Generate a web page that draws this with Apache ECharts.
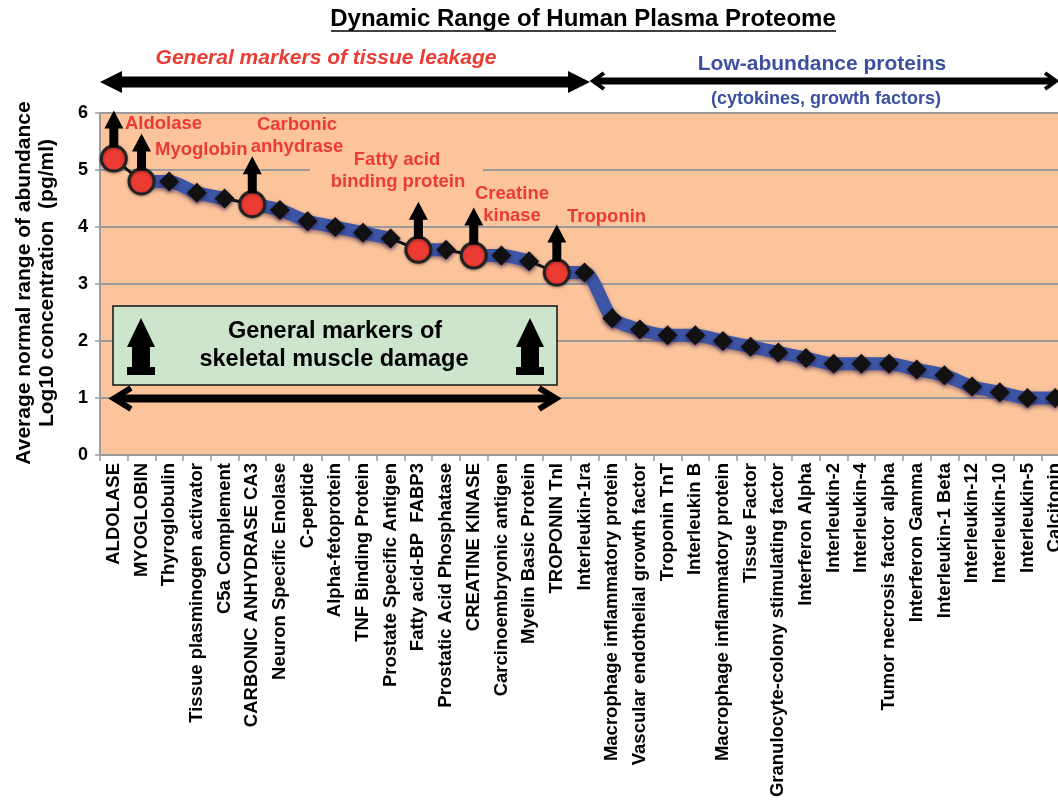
<!DOCTYPE html>
<html>
<head>
<meta charset="utf-8">
<script src="https://cdn.jsdelivr.net/npm/echarts@6/dist/echarts.min.js"></script>
<style>
  html, body { margin: 0; padding: 0; background: #fff; overflow: hidden; }
  #chart { width: 1070px; height: 801px; }
</style>
</head>
<body>
<div id="chart"></div>
<script>
var categories = [
    'ALDOLASE', 'MYOGLOBIN', 'Thyroglobulin', 'Tissue plasminogen activator', 'C5a Complement',
    'CARBONIC ANHYDRASE CA3', 'Neuron Specific Enolase', 'C-peptide', 'Alpha-fetoprotein',
    'TNF Binding Protein', 'Prostate Specific Antigen', 'Fatty acid-BP  FABP3',
    'Prostatic Acid Phosphatase', 'CREATINE KINASE', 'Carcinoembryonic antigen',
    'Myelin Basic Protein', 'TROPONIN TnI', 'Interleukin-1ra', 'Macrophage inflammatory protein',
    'Vascular endothelial growth factor', 'Troponin TnT', 'Interleukin B',
    'Macrophage inflammatory protein', 'Tissue Factor', 'Granulocyte-colony stimulating factor',
    'Interferon Alpha', 'Interleukin-2', 'Interleukin-4', 'Tumor necrosis factor alpha',
    'Interferon Gamma', 'Interleukin-1 Beta', 'Interleukin-12', 'Interleukin-10',
    'Interleukin-5', 'Calcitonin'
];
var values = [
    5.2, 4.8, 4.8, 4.6, 4.5, 4.4, 4.3, 4.1, 4.0, 3.9, 3.8, 3.6, 3.6, 3.5, 3.5, 3.4, 3.2,
    3.2, 2.4, 2.2, 2.1, 2.1, 2.0, 1.9, 1.8, 1.7, 1.6, 1.6, 1.6, 1.5, 1.4, 1.2, 1.1, 1.0, 1.0
];
// muscle damage markers (red circles with arrows)
var highlighted = [0, 1, 5, 11, 13, 16];
var yTicks = [0, 1, 2, 3, 4, 5, 6];

var FONT = '"Liberation Sans", Arial, sans-serif',
    PEACH = '#FBC49B',
    GREY = '#9B9B9B',
    BLUE = '#3C56A5',
    RED = '#EC3B33',
    NAVY = '#3C50A0';

var chart = echarts.init(document.getElementById('chart'));

// split the line: blue runs, thin black segments leading into red markers
var blueRuns = [], blackSegs = [], start = null;
for (var i = 0; i < values.length - 1; i++) {
    if (highlighted.indexOf(i + 1) >= 0) {
        blackSegs.push([i, i + 1]);
        if (start !== null) {
            blueRuns.push([start, i]);
            start = null;
        }
    } else if (start === null) {
        start = i;
    }
}
if (start !== null) blueRuns.push([start, values.length - 1]);

var lineRun = function (from, to) {
    return values.map(function (v, i) {
        return (i >= from && i <= to) ? v : '-';
    });
};

var series = [];
blueRuns.forEach(function (r) {
    series.push({
        type: 'line', data: lineRun(r[0], r[1]), symbol: 'none', smooth: 0.25, z: 2,
        lineStyle: {
            color: BLUE, width: 13, opacity: 1,
            shadowColor: 'rgba(40,20,60,0.45)', shadowBlur: 4, shadowOffsetY: 2
        }
    });
});
blackSegs.forEach(function (r) {
    series.push({
        type: 'line', data: lineRun(r[0], r[1]), symbol: 'none', z: 2,
        lineStyle: {color: '#111', width: 3, opacity: 1}
    });
});
series.push({
    type: 'scatter', symbol: 'diamond', symbolSize: 20, z: 3,
    data: values.map(function (v, i) {
        return highlighted.indexOf(i) >= 0 ? [i, '-'] : [i, v];
    }),
    itemStyle: {
        color: '#111', opacity: 1,
        shadowColor: 'rgba(40,20,80,0.7)', shadowBlur: 4, shadowOffsetY: 2
    }
});
series.push({
    type: 'scatter', symbol: 'circle', symbolSize: 25, z: 4,
    data: highlighted.map(function (i) { return [i, values[i]]; }),
    itemStyle: {
        color: RED, borderColor: '#222', borderWidth: 3, opacity: 1,
        shadowColor: 'rgba(0,0,0,0.35)', shadowBlur: 3, shadowOffsetY: 1
    }
});
series.push({
    type: 'scatter', z: 5,
    symbol: 'path://M9.5,0 L19,18 L14,18 L14,37 L5,37 L5,18 L0,18 Z',
    symbolSize: [19, 37], symbolOffset: [0, -29.5],
    data: highlighted.map(function (i) { return [i, values[i]]; }),
    itemStyle: {color: '#000', opacity: 1}
});

var txt = function (x, y, text, size, color, opts) {
    opts = opts || {};
    return {
        type: 'text', x: x, y: y, z: 10, rotation: opts.rotation || 0,
        style: {
            text: text, fill: color, fontFamily: FONT, fontSize: size,
            fontWeight: 'bold', fontStyle: opts.italic ? 'italic' : 'normal',
            align: opts.align || 'center', verticalAlign: 'middle'
        }
    };
};
var poly = function (points, fill) {
    return {type: 'polygon', z: 10, shape: {points: points}, style: {fill: fill}};
};
var seg = function (pts, width) {
    return {
        type: 'polyline', z: 10, shape: {points: pts},
        style: {stroke: '#000', lineWidth: width, fill: null, lineJoin: 'miter'}
    };
};
var boxArrow = function (x) {
    return [
        poly([[x, 347], [x + 14, 318], [x + 28, 347]], '#000'),
        poly([[x + 5, 347], [x + 23, 347], [x + 23, 368], [x + 5, 368]], '#000'),
        poly([[x, 367], [x + 28, 367], [x + 28, 375], [x, 375]], '#000')
    ];
};

var graphics = [
    txt(583, 19, 'Dynamic Range of Human Plasma Proteome', 24, '#000'),
    seg([[331, 31], [836, 31]], 1.5),
    txt(326, 58, 'General markers of tissue leakage', 21, RED, {italic: true}),
    txt(822, 64, 'Low-abundance proteins', 21, NAVY),
    txt(826, 99, '(cytokines, growth factors)', 18, NAVY),
    // thick double arrow (tissue leakage)
    seg([[120, 82], [570, 82]], 11),
    poly([[100, 82], [122, 71], [122, 93]], '#000'),
    poly([[590, 82], [568, 71], [568, 93]], '#000'),
    // thin double arrow (low abundance)
    seg([[594, 81], [1054, 81]], 7),
    seg([[604, 73], [593, 81], [604, 89]], 4),
    seg([[1045, 73], [1056, 81], [1045, 89]], 4),
    // y axis name
    txt(24, 283, 'Average normal range of abundance', 21, '#000', {rotation: Math.PI / 2}),
    txt(47, 283, 'Log10 concentration  (pg/ml)', 21, '#000', {rotation: Math.PI / 2}),
    // text box behind "Fatty acid binding protein" hides the grid line
    {type: 'rect', z: 9, shape: {x: 310, y: 165, width: 173, height: 12}, style: {fill: PEACH}},
    txt(125, 124, 'Aldolase', 18.5, RED, {align: 'left'}),
    txt(155, 150, 'Myoglobin', 18.5, RED, {align: 'left'}),
    txt(297, 125, 'Carbonic', 18.5, RED),
    txt(297, 147, 'anhydrase', 18.5, RED),
    txt(397, 160, 'Fatty acid', 18.5, RED),
    txt(398, 182, 'binding protein', 18.5, RED),
    txt(512, 194, 'Creatine', 18.5, RED),
    txt(512, 216, 'kinase', 18.5, RED),
    txt(567, 217, 'Troponin', 18.5, RED, {align: 'left'}),
    // skeletal muscle box
    {
        type: 'rect', z: 10, shape: {x: 113, y: 306, width: 444, height: 79},
        style: {fill: '#CDE5CC', stroke: '#111', lineWidth: 1.5}
    },
    txt(335, 332, 'General markers of', 23.5, '#000'),
    txt(334, 360, 'skeletal muscle damage', 23.5, '#000'),
    seg([[117, 398.5], [553, 398.5]], 8),
    seg([[131, 388], [114, 398.5], [131, 409]], 6),
    seg([[539, 388], [556, 398.5], [539, 409]], 6)
].concat(boxArrow(127), boxArrow(516));

chart.setOption({
    animation: false,
    backgroundColor: '#fff',
    grid: {
        left: 100, top: 113, width: 969, height: 342,
        outerBoundsMode: 'none',
        show: true, backgroundColor: PEACH, borderWidth: 0
    },
    xAxis: {
        type: 'category',
        data: categories,
        axisLine: {lineStyle: {color: GREY, width: 2}},
        axisTick: {show: true, interval: 0, length: 6, lineStyle: {color: GREY, width: 1.5}},
        axisLabel: {
            interval: 0, rotate: 90, margin: 8, color: '#000',
            fontFamily: FONT, fontWeight: 'bold', fontSize: 18.5
        },
        splitLine: {show: false}
    },
    yAxis: {
        type: 'value',
        min: yTicks[0], max: yTicks[yTicks.length - 1], interval: 1,
        axisLine: {show: true, lineStyle: {color: GREY, width: 2}},
        axisTick: {show: true, length: 5, lineStyle: {color: GREY, width: 1.5}},
        axisLabel: {
            margin: 12, color: '#000', fontFamily: FONT, fontWeight: 'bold', fontSize: 18
        },
        splitLine: {lineStyle: {color: GREY, width: 2}}
    },
    series: series,
    graphic: graphics
});
</script>
</body>
</html>
